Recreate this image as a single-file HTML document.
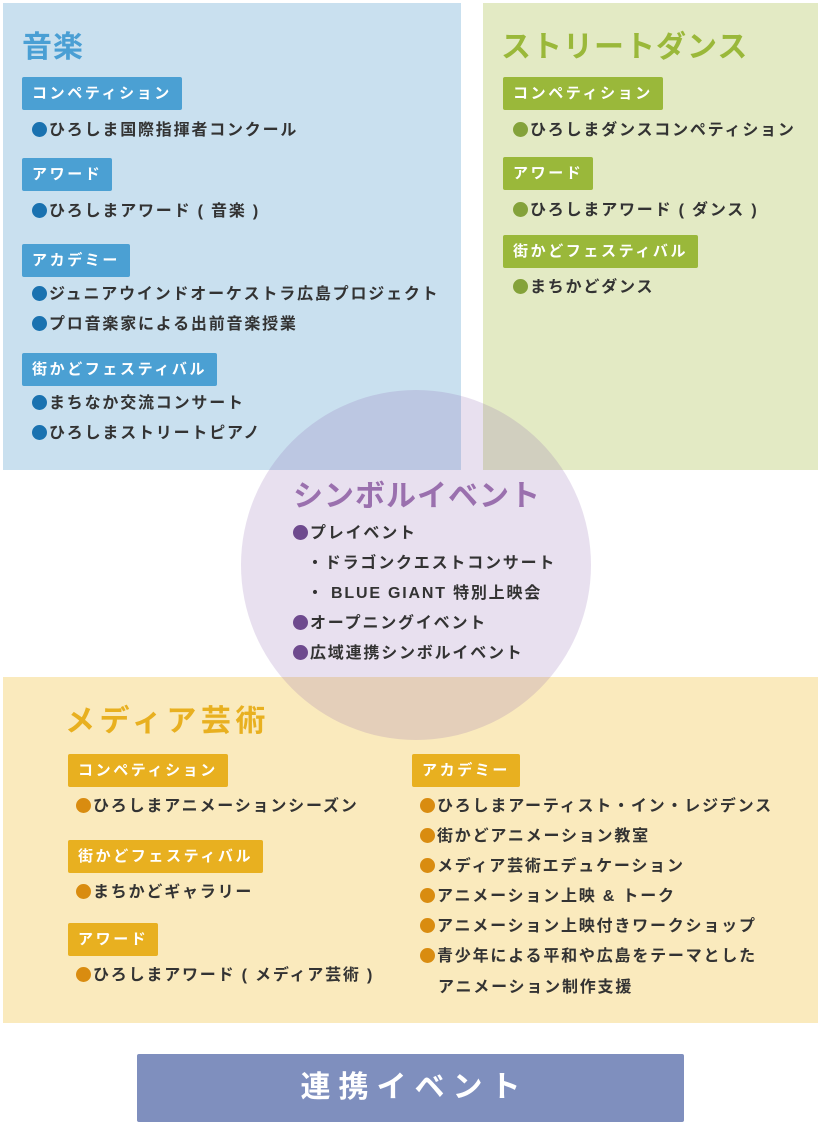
<!DOCTYPE html>
<html><head><meta charset="utf-8"><style>
*{margin:0;padding:0;box-sizing:border-box}
body{width:820px;height:1124px;position:relative;background:#fff;overflow:hidden;font-family:"Liberation Sans","Noto Sans CJK JP",sans-serif;font-weight:bold;color:#333}
.box{position:absolute}
.t{position:absolute;font-size:30px;line-height:36px;letter-spacing:1px;white-space:nowrap}
.tag{position:absolute;height:33px;line-height:33px;color:#fff;font-size:15px;letter-spacing:2.6px;padding:0 10px;border-radius:2px;white-space:nowrap}
.i{position:absolute;font-size:16px;line-height:22px;letter-spacing:1.8px;white-space:nowrap}
.i b{display:inline-block;width:15px;height:15px;border-radius:50%;margin-right:2px;vertical-align:-2px}
.bl .tag{background:#4ba0d3}.bl .i b{background:#1a72b0}
.gr .tag{background:#9ab83a}.gr .i b{background:#84a23a}
.or .tag{background:#e8b020}.or .i b{background:#d98c10}
.pu .i b{background:#6e4a8e}
</style></head><body>
<div class="box" style="left:3px;top:3px;width:458px;height:467px;background:#c9e0ef"></div>
<div class="box" style="left:483px;top:3px;width:335px;height:467px;background:#e3eac4"></div>
<div class="box" style="left:3px;top:677px;width:815px;height:346px;background:#faeabd"></div>
<div class="box" style="left:241px;top:390px;width:350px;height:350px;border-radius:50%;background:rgba(140,100,175,0.2)"></div>

<div class="bl">
<div class="t" style="left:22px;top:30px;color:#4a9fd4">音楽</div>
<div class="tag" style="left:22px;top:77px">コンペティション</div>
<div class="i" style="left:32px;top:120px"><b></b>ひろしま国際指揮者コンクール</div>
<div class="tag" style="left:22px;top:158px">アワード</div>
<div class="i" style="left:32px;top:201px"><b></b>ひろしまアワード ( 音楽 )</div>
<div class="tag" style="left:22px;top:244px">アカデミー</div>
<div class="i" style="left:32px;top:284px"><b></b>ジュニアウインドオーケストラ広島プロジェクト</div>
<div class="i" style="left:32px;top:314px"><b></b>プロ音楽家による出前音楽授業</div>
<div class="tag" style="left:22px;top:353px">街かどフェスティバル</div>
<div class="i" style="left:32px;top:393px"><b></b>まちなか交流コンサート</div>
<div class="i" style="left:32px;top:423px"><b></b>ひろしまストリートピアノ</div>
</div>

<div class="gr">
<div class="t" style="left:501px;top:30px;color:#9ab83a">ストリートダンス</div>
<div class="tag" style="left:503px;top:77px">コンペティション</div>
<div class="i" style="left:513px;top:120px"><b></b>ひろしまダンスコンペティション</div>
<div class="tag" style="left:503px;top:157px">アワード</div>
<div class="i" style="left:513px;top:200px"><b></b>ひろしまアワード ( ダンス )</div>
<div class="tag" style="left:503px;top:235px">街かどフェスティバル</div>
<div class="i" style="left:513px;top:277px"><b></b>まちかどダンス</div>
</div>

<div class="pu">
<div class="t" style="left:293px;top:479px;color:#9a70ae">シンボルイベント</div>
<div class="i" style="left:293px;top:523px"><b></b>プレイベント</div>
<div class="i" style="left:307px;top:553px">・ドラゴンクエストコンサート</div>
<div class="i" style="left:307px;top:583px">・ BLUE GIANT 特別上映会</div>
<div class="i" style="left:293px;top:613px"><b></b>オープニングイベント</div>
<div class="i" style="left:293px;top:643px"><b></b>広域連携シンボルイベント</div>
</div>

<div class="or">
<div class="t" style="left:65px;top:704px;color:#e8b020;letter-spacing:4.5px">メディア芸術</div>
<div class="tag" style="left:68px;top:754px">コンペティション</div>
<div class="i" style="left:76px;top:796px"><b></b>ひろしまアニメーションシーズン</div>
<div class="tag" style="left:68px;top:840px">街かどフェスティバル</div>
<div class="i" style="left:76px;top:882px"><b></b>まちかどギャラリー</div>
<div class="tag" style="left:68px;top:923px">アワード</div>
<div class="i" style="left:76px;top:965px"><b></b>ひろしまアワード ( メディア芸術 )</div>
<div class="tag" style="left:412px;top:754px">アカデミー</div>
<div class="i" style="left:420px;top:796px"><b></b>ひろしまアーティスト・イン・レジデンス</div>
<div class="i" style="left:420px;top:826px"><b></b>街かどアニメーション教室</div>
<div class="i" style="left:420px;top:856px"><b></b>メディア芸術エデュケーション</div>
<div class="i" style="left:420px;top:886px"><b></b>アニメーション上映 &amp; トーク</div>
<div class="i" style="left:420px;top:916px"><b></b>アニメーション上映付きワークショップ</div>
<div class="i" style="left:420px;top:946px"><b></b>青少年による平和や広島をテーマとした</div>
<div class="i" style="left:438px;top:977px">アニメーション制作支援</div>
</div>

<div class="box" style="left:137px;top:1054px;width:547px;height:68px;background:#7f8fbe;border-radius:2px;color:#fff;font-size:30px;line-height:68px;text-align:center;letter-spacing:8px;padding-left:8px">連携イベント</div>
</body></html>
